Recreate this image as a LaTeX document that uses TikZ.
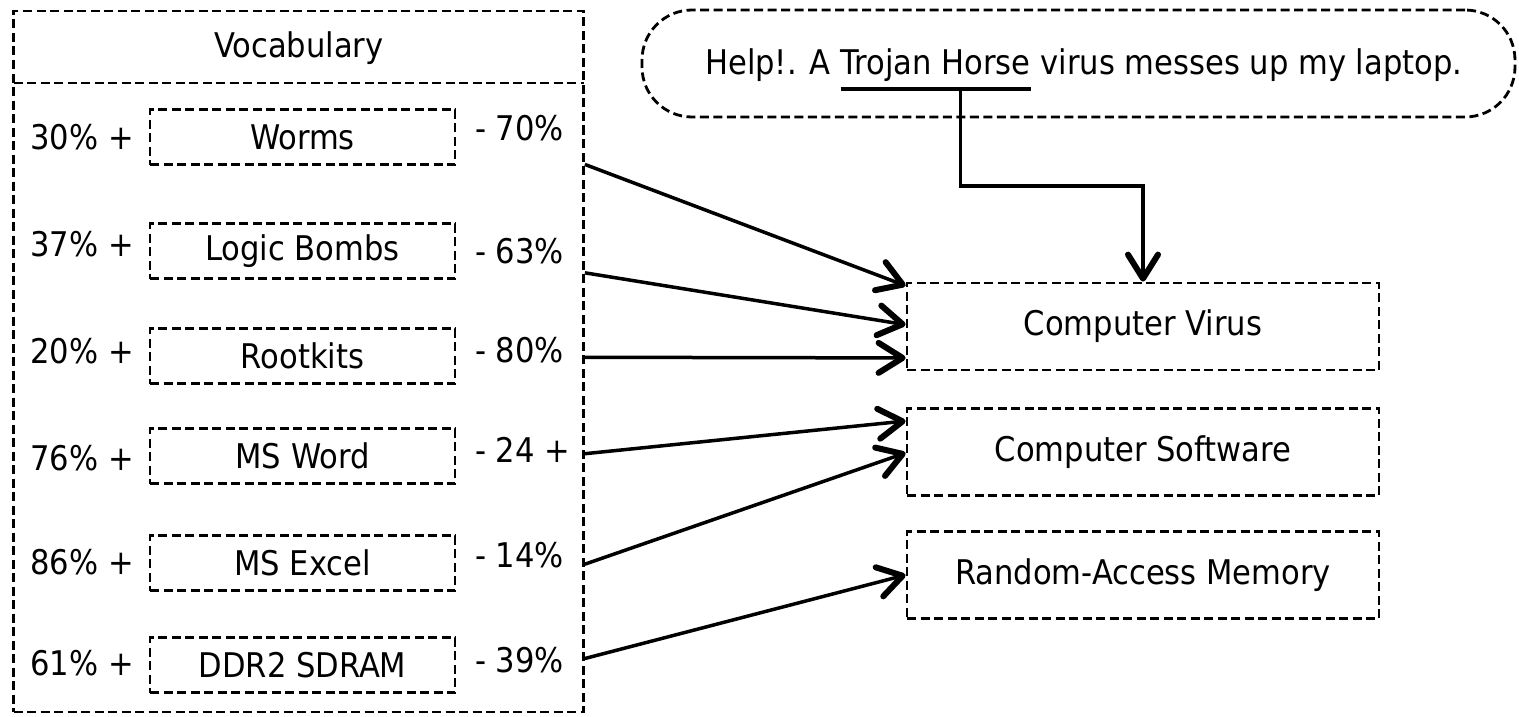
\documentclass[tikz,border=0pt]{standalone}
\usepackage{fontspec}
\setmainfont{DejaVu Sans Condensed}
\usetikzlibrary{arrows.meta,calc}
\begin{document}
\begin{tikzpicture}[x=1pt,y=-1pt,
  dsh/.style={draw, line width=2.8pt, dash pattern=on 9pt off 4.5pt},
  txt/.style={font=\fontsize{34}{40}\selectfont, inner sep=0pt},
  item/.style={dsh, txt, minimum width=305pt, minimum height=55pt},
  tgt/.style={dsh, txt, minimum width=472pt, minimum height=87pt},
  conn/.style={line width=3.5pt, -{Straight Barb[length=24pt, width=30pt, line width=6pt, round]}}
]
\useasboundingbox (0,0) rectangle (1519,717);

% vocabulary panel
\node[dsh, minimum width=570pt, minimum height=701pt, inner sep=0pt] (outer) at (298.5,361.5) {};
\coordinate (hl) at (13.5,83);
\coordinate (hr) at (583.5,83);
\draw[dsh] (hl) -- (hr);
\node[txt] (voc) at (299,48) {Vocabulary};

\node[item] (w1) at (302.5,137) {Worms};
\node[item] (w2) at (302.5,251) {Logic Bombs};
\node[item] (w3) at (302.5,356) {Rootkits};
\node[item] (w4) at (302.5,456) {MS Word};
\node[item] (w5) at (302.5,563) {MS Excel};
\node[item] (w6) at (302.5,665) {DDR2 SDRAM};

\node[txt, anchor=east] (l1) at (134,137) {30\% +};
\node[txt, anchor=east] (l2) at (134,244) {37\% +};
\node[txt, anchor=east] (l3) at (134,351) {20\% +};
\node[txt, anchor=east] (l4) at (134,458) {76\% +};
\node[txt, anchor=east] (l5) at (134,562) {86\% +};
\node[txt, anchor=east] (l6) at (134,663) {61\% +};

\node[txt, anchor=west] (r1) at (475,128) {- 70\%};
\node[txt, anchor=west] (r2) at (475,251) {- 63\%};
\node[txt, anchor=west] (r3) at (475,350) {- 80\%};
\node[txt, anchor=west] (r4) at (475,450) {- 24 +};
\node[txt, anchor=west] (r5) at (475,555) {- 14\%};
\node[txt, anchor=west] (r6) at (475,660) {- 39\%};

% targets
\node[tgt] (cv) at (1143,326.5) {Computer Virus};
\node[tgt] (cs) at (1143,452) {Computer Software};
\node[tgt] (ram) at (1143,575) {Random-Access Memory};

% sentence
\node[dsh, rounded corners=50pt, minimum width=873pt, minimum height=107pt] (bubble) at (1078.5,63.5) {};
\node[txt, anchor=base west] (h1) at (705,75) {Help!. A};
\node[txt, anchor=base west] (troj) at ([xshift=9.7pt]h1.base east) {Trojan Horse};
\node[txt, anchor=base west] (h3) at ([xshift=9.7pt]troj.base east) {virus messes up my laptop.};
\coordinate (ulw) at ([yshift=-14pt]troj.base west);
\coordinate (ule) at ([yshift=-14pt]troj.base east);
\draw[line width=3.5pt] (ulw) -- (ule);
\coordinate (tdrop) at ($(ulw)!0.63!(ule)$);
\coordinate (tbend) at ($(tdrop)+(0,97)$);
\draw[conn] (tdrop) -- (tbend) -| (cv.north);

% connectors
\draw[conn] ($(outer.north east)!0.22!(outer.south east)$) -- ($(cv.north west)!0.046!(cv.south west)$);
\draw[conn] ($(outer.north east)!0.374!(outer.south east)$) -- ($(cv.north west)!0.48!(cv.south west)$);
\draw[conn] ($(outer.north east)!0.494!(outer.south east)$) -- ($(cv.north west)!0.85!(cv.south west)$);
\draw[conn] ($(outer.north east)!0.631!(outer.south east)$) -- ($(cs.north west)!0.155!(cs.south west)$);
\draw[conn] ($(outer.north east)!0.788!(outer.south east)$) -- ($(cs.north west)!0.51!(cs.south west)$);
\draw[conn] ($(outer.north east)!0.922!(outer.south east)$) -- (ram.west);
\end{tikzpicture}
\end{document}
